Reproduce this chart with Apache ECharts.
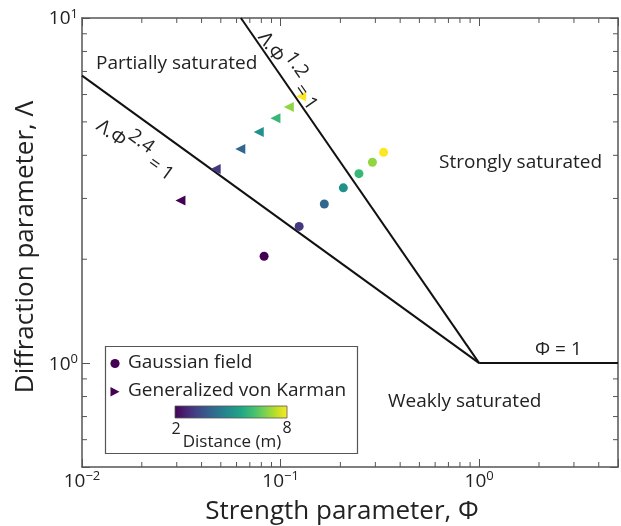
<!DOCTYPE html>
<html>
<head>
<meta charset="utf-8">
<script src="https://cdn.jsdelivr.net/npm/echarts@6/dist/echarts.min.js"></script>
<style>
  html, body { margin: 0; padding: 0; background: #fff; }
  #chart { width: 621px; height: 526px; }
</style>
</head>
<body>
<div id="chart"></div>
<script>
// ---- data ----
const distances   = [2, 3, 4, 5, 6, 7, 8];
const gaussPhi    = [0.0826, 0.124, 0.166, 0.207, 0.248, 0.290, 0.330];
const gaussLambda = [2.04, 2.49, 2.89, 3.22, 3.54, 3.82, 4.08];
const vkPhi       = [0.0313, 0.0471, 0.0627, 0.0776, 0.0942, 0.110, 0.127];
const vkLambda    = [2.96, 3.65, 4.17, 4.67, 5.12, 5.52, 5.92];

// regime boundaries (end points)
const line24Phi = [0.01, 1];   const line24Lambda = [6.81, 1];
const line12Phi = [0.0631, 1]; const line12Lambda = [10, 1];
const phi1Phi   = [1, 5];      const phi1Lambda   = [1, 1];

const xMinorTicks = [0.02,0.03,0.04,0.05,0.06,0.07,0.08,0.09,0.2,0.3,0.4,0.5,0.6,0.7,0.8,0.9,2,3,4];
const yMinorTicks = [0.6,0.7,0.8,0.9,2,3,4,5,6,7,8,9];

const X_MIN = 0.01, X_MAX = 5, Y_MIN = 0.5, Y_MAX = 10;

const viridis = ['#440154','#482475','#414487','#355f8d','#2a788e','#21918c','#22a884','#44bf70','#7ad151','#bddf26','#fde725'];

const FONT = 'Open Sans';
const TXT = '#222';
const AX = '#555';

const zip3 = (a, b, c) => a.map((v, i) => [v, b[i], c[i]]);
const zip2 = (a, b) => a.map((v, i) => [v, b[i]]);

function powLabel(v) {
  const l = Math.log10(v);
  const e = Math.round(l);
  if (Math.abs(l - e) > 1e-6) return '';
  return '{b|10}{s|' + (e < 0 ? '\u2212' + (-e) : e) + '}';
}
const labelRich = {
  b: { fontFamily: FONT, fontSize: 19, color: TXT, lineHeight: 21, verticalAlign: 'bottom' },
  s: { fontFamily: FONT, fontSize: 13, color: TXT, lineHeight: 13, verticalAlign: 'top' }
};

function axisBase(extra) {
  return Object.assign({
    type: 'log', logBase: 10,
    axisLine: { show: true, onZero: false, lineStyle: { color: AX, width: 1.5 } },
    axisTick: { show: true, inside: true, length: 8, lineStyle: { color: AX, width: 1 } },
    minorTick: { show: false },
    splitLine: { show: false },
    minorSplitLine: { show: false }
  }, extra);
}

const chart = echarts.init(document.getElementById('chart'), null, { renderer: 'canvas' });

function minorTickSeries(name, data, isX) {
  return {
    type: 'custom', name, silent: true, z: 1, clip: false,
    xAxisIndex: 0, yAxisIndex: 0,
    data: data,
    renderItem: function (params, api) {
      const v = api.value(isX ? 0 : 1);
      const L = 5;
      let a, b, la, lb;
      if (isX) {
        a = api.coord([v, Y_MIN]); b = api.coord([v, Y_MAX]);
        la = { x1: a[0], y1: a[1], x2: a[0], y2: a[1] - L };
        lb = { x1: b[0], y1: b[1], x2: b[0], y2: b[1] + L };
      } else {
        a = api.coord([X_MIN, v]); b = api.coord([X_MAX, v]);
        la = { x1: a[0], y1: a[1], x2: a[0] + L, y2: a[1] };
        lb = { x1: b[0], y1: b[1], x2: b[0] - L, y2: b[1] };
      }
      return { type: 'group', children: [
        { type: 'line', shape: la, style: { stroke: AX, lineWidth: 1 } },
        { type: 'line', shape: lb, style: { stroke: AX, lineWidth: 1 } }
      ]};
    }
  };
}

const supRich = {
  b: { fontFamily: FONT, fontSize: 19, fill: TXT, lineHeight: 30, verticalAlign: 'bottom' },
  s: { fontFamily: FONT, fontSize: 19, fill: TXT, lineHeight: 16, verticalAlign: 'top' }
};

const option = {
  backgroundColor: '#fff',
  animation: false,
  grid: { left: 82, right: 1, top: 18, bottom: 59 },
  xAxis: [
    axisBase({
      position: 'bottom', min: X_MIN, max: X_MAX, interval: 1,
      axisLabel: { show: true, margin: 3, formatter: powLabel, rich: labelRich, showMinLabel: true, showMaxLabel: true }
    }),
    axisBase({ position: 'top', min: X_MIN, max: X_MAX, interval: 1, axisLabel: { show: false } })
  ],
  yAxis: [
    axisBase({
      position: 'left', min: Y_MIN, max: Y_MAX,
      axisLabel: { show: true, margin: 4, formatter: powLabel, rich: labelRich, showMinLabel: true, showMaxLabel: true }
    }),
    axisBase({ position: 'right', min: Y_MIN, max: Y_MAX, axisLabel: { show: false } })
  ],
  visualMap: {
    type: 'continuous', show: false, min: 2, max: 8, dimension: 2,
    seriesIndex: [3, 4], inRange: { color: viridis }
  },
  series: [
    { type: 'line', name: 'L24', data: zip2(line24Phi, line24Lambda), symbol: 'none', silent: true,
      lineStyle: { color: '#111', width: 2 }, z: 3 },
    { type: 'line', name: 'L12', data: zip2(line12Phi, line12Lambda), symbol: 'none', silent: true,
      lineStyle: { color: '#111', width: 2 }, z: 3 },
    { type: 'line', name: 'P1', data: zip2(phi1Phi, phi1Lambda), symbol: 'none', silent: true,
      lineStyle: { color: '#111', width: 2 }, z: 3 },
    { type: 'scatter', name: 'Gaussian field', data: zip3(gaussPhi, gaussLambda, distances),
      symbol: 'circle', symbolSize: 9, itemStyle: { opacity: 1 }, z: 5 },
    { type: 'scatter', name: 'Generalized von Karman', data: zip3(vkPhi, vkLambda, distances),
      symbol: 'triangle', symbolSize: 10, symbolRotate: 90, itemStyle: { opacity: 1 }, z: 5 },
    minorTickSeries('xminor', xMinorTicks.map(v => [v, 1]), true),
    minorTickSeries('yminor', yMinorTicks.map(v => [0.1, v]), false)
  ],
  graphic: [
    // axis titles
    { type: 'text', z: 10, style: { text: 'Strength parameter, \u03A6', x: 342, y: 512, font: '26px "' + FONT + '"', fill: TXT, textAlign: 'center', textVerticalAlign: 'middle' } },
    { type: 'text', z: 10, x: 26, y: 247, rotation: Math.PI / 2,
      style: { text: 'Diffraction parameter, \u039B', font: '26px "' + FONT + '"', fill: TXT, textAlign: 'center', textVerticalAlign: 'middle' } },
    // regime labels
    { type: 'text', z: 10, style: { text: 'Partially saturated', x: 96, y: 64, font: '19px "' + FONT + '"', fill: TXT, textVerticalAlign: 'middle' } },
    { type: 'text', z: 10, style: { text: 'Strongly saturated', x: 439, y: 163, font: '19px "' + FONT + '"', fill: TXT, textVerticalAlign: 'middle' } },
    { type: 'text', z: 10, style: { text: 'Weakly saturated', x: 388, y: 402, font: '19px "' + FONT + '"', fill: TXT, textVerticalAlign: 'middle' } },
    { type: 'text', z: 10, style: { text: '\u03A6 = 1', x: 535, y: 350, font: '19px "' + FONT + '"', fill: TXT, textVerticalAlign: 'middle' } },
    { type: 'text', z: 10, x: 138, y: 146, rotation: -35.8 * Math.PI / 180,
      style: { text: '{b|\u039B.\u03A6}{s|2.4}{b| = 1}', textAlign: 'center', textVerticalAlign: 'middle', rich: supRich } },
    { type: 'text', z: 10, x: 292, y: 68, rotation: -55.4 * Math.PI / 180,
      style: { text: '{b|\u039B.\u03A6}{s|1.2}{b| = 1}', textAlign: 'center', textVerticalAlign: 'middle', rich: supRich } },
    // legend box
    { type: 'rect', z: 20, shape: { x: 105.5, y: 346.5, width: 252, height: 107 },
      style: { fill: '#fff', stroke: AX, lineWidth: 1.2 } },
    { type: 'circle', z: 21, shape: { cx: 115, cy: 363.5, r: 4.6 }, style: { fill: '#440154' } },
    { type: 'polygon', z: 21, shape: { points: [[110.5, 387], [110.5, 396.5], [119.5, 391.7]] }, style: { fill: '#440154' } },
    { type: 'text', z: 21, style: { text: 'Gaussian field', x: 128, y: 363, font: '19px "' + FONT + '"', fill: TXT, textVerticalAlign: 'middle' } },
    { type: 'text', z: 21, style: { text: 'Generalized von Karman', x: 128, y: 391, font: '19px "' + FONT + '"', fill: TXT, textVerticalAlign: 'middle' } },
    { type: 'rect', z: 21, shape: { x: 175, y: 406, width: 112, height: 12 },
      style: { fill: new echarts.graphic.LinearGradient(0, 0, 1, 0,
        viridis.map((c, i) => ({ offset: i / (viridis.length - 1), color: c }))), stroke: AX, lineWidth: 0.8 } },
    { type: 'text', z: 21, style: { text: '2', x: 176, y: 429, font: '16px "' + FONT + '"', fill: TXT, textAlign: 'center', textVerticalAlign: 'middle' } },
    { type: 'text', z: 21, style: { text: '8', x: 287, y: 428, font: '16px "' + FONT + '"', fill: TXT, textAlign: 'center', textVerticalAlign: 'middle' } },
    { type: 'text', z: 21, style: { text: 'Distance (m)', x: 232, y: 442, font: '17px "' + FONT + '"', fill: TXT, textAlign: 'center', textVerticalAlign: 'middle' } }
  ]
};
chart.setOption(option);
</script>
</body>
</html>
